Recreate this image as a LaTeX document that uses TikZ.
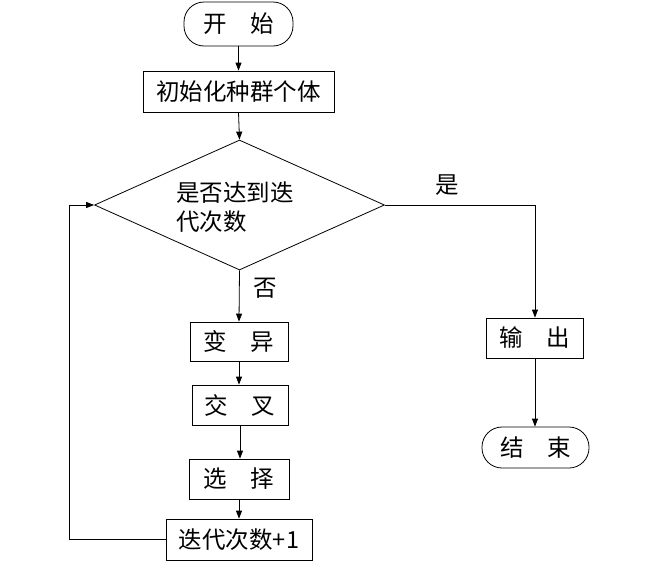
\documentclass[tikz,border=0pt]{standalone}
\usepackage{fontspec}
\setmainfont{Noto Sans CJK SC}
\usetikzlibrary{shapes.geometric,arrows.meta}
\begin{document}
\begin{tikzpicture}[x=1pt,y=-1pt,
  every node/.style={font=\fontsize{23.5}{29}\selectfont},
  box/.style={draw,line width=0.8pt,rectangle,inner sep=0pt},
  term/.style={draw,line width=0.8pt,rectangle,rounded corners=20pt,inner sep=0pt},
  dec/.style={draw,line width=0.8pt,diamond,inner sep=0pt},
  conn/.style={line width=0.8pt,-{Triangle[length=8pt,width=6pt]}},
  plain/.style={line width=0.8pt}]
\useasboundingbox (0,0) rectangle (662,568);
\node[term,minimum width=109pt,minimum height=44pt] (start) at (238.5,24) {开\hspace{1em}始};
\node[box,minimum width=191pt,minimum height=41pt] (init) at (238.5,91.5) {初始化种群个体};
\node[dec,minimum width=290pt,minimum height=130pt] (dia) at (239.5,205) {};
\node[anchor=west,align=left,inner sep=0pt] (dtext) at (176,207.5) {是否达到迭\\代次数};
\node[box,minimum width=98pt,minimum height=39pt] (mut) at (239,341.5) {变\hspace{1em}异};
\node[box,minimum width=96pt,minimum height=40pt] (cross) at (240,405) {交\hspace{1em}叉};
\node[box,minimum width=100pt,minimum height=40pt] (sel) at (239,479) {选\hspace{1em}择};
\node[box,minimum width=146pt,minimum height=41pt] (inc) at (239,539.5) {迭代次数+1};
\node[box,minimum width=97pt,minimum height=40pt] (out) at (535,338) {输\hspace{1em}出};
\node[term,minimum width=107pt,minimum height=41pt] (end) at (535.5,447.5) {结\hspace{1em}束};
\node (no) at (265,288) {否};
\node (yes) at (447,185) {是};
\coordinate (loopx) at (69,0);
\draw[conn] (start.south) -- (init.north);
\draw[conn] (init.south) -- (dia.north);
\draw[conn] (dia.south) -- (mut.north);
\draw[conn] (mut.south) -- (cross.north -| mut.south);
\draw[conn] (cross.south) -- (sel.north -| cross.south);
\draw[conn] (sel.south) -- (inc.north);
\draw[conn] (inc.west) -- (inc.west -| loopx) |- (dia.west);
\draw[conn] (dia.east) -| (out.north);
\draw[conn] (out.south) -- (end.north -| out.south);
\end{tikzpicture}
\end{document}
